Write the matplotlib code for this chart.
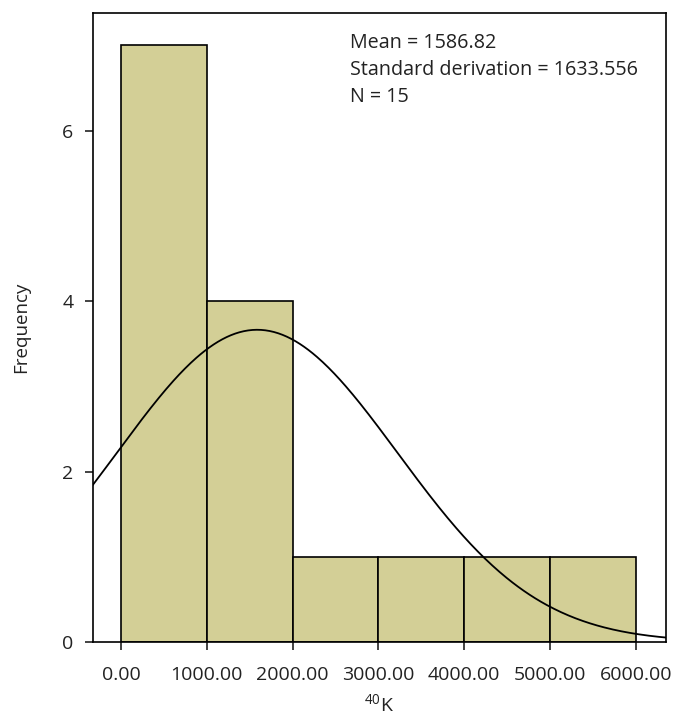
import numpy as np
import matplotlib
matplotlib.use('Agg')
import matplotlib.pyplot as plt

plt.rcParams['font.family'] = ['Open Sans', 'DejaVu Sans']
plt.rcParams['mathtext.default'] = 'regular'

# 直方图数据（每 1000 一组）
bin_edges = [0, 1000, 2000, 3000, 4000, 5000, 6000]
counts = [7, 4, 1, 1, 1, 1]
mean = 1586.82
sd = 1633.556
n = 15
tick_vals = [0, 1000, 2000, 3000, 4000, 5000, 6000]
tick_labels = ['0.00', '1000.00', '2000.00', '3000.00', '4000.00', '5000.00', '6000.00']

fig = plt.figure(figsize=(6.78, 7.17), dpi=100)
ax = fig.add_axes([93/678, 75/717, 573/678, 629/717])

widths = np.diff(bin_edges)
ax.bar(bin_edges[:-1], counts, width=widths, align='edge',
       color='#d3cf96', edgecolor='black', linewidth=1.2)

# 正态曲线
xlim = (-326, 6350)
xs = np.linspace(xlim[0], xlim[1], 400)
bw = bin_edges[1] - bin_edges[0]
ys = n * bw / (sd * np.sqrt(2 * np.pi)) * np.exp(-0.5 * ((xs - mean) / sd) ** 2)
ax.plot(xs, ys, color='black', linewidth=1.3)

ax.set_xlim(*xlim)
ax.set_ylim(0, 7.38)
ax.set_xticks(tick_vals)
ax.set_xticklabels(tick_labels)
ax.set_yticks([0, 2, 4, 6])
ax.tick_params(labelsize=14, colors='#222222', length=6, width=1.2, pad=8)
ax.tick_params(axis='x', pad=11)
for s in ax.spines.values():
    s.set_linewidth(1.2)

ax.set_ylabel('Frequency', fontsize=13.5, color='#222222', labelpad=23)
ax.set_xlabel(r'$^{40}$K', fontsize=14, color='#222222', labelpad=7)

txt = f'Mean = {mean}\nStandard derivation = {sd}\nN = {n}'
ax.text(0.449, 0.968, txt, transform=ax.transAxes, ha='left', va='top',
        fontsize=14.2, color='#222222', linespacing=1.45)

fig.savefig('out.png', dpi=100)
